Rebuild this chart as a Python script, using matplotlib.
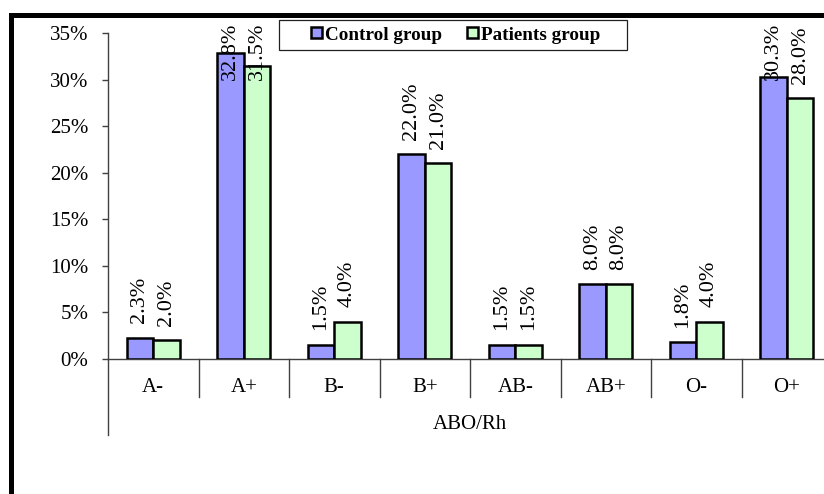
"""ABO/Rh distribution, control vs patients."""

import matplotlib
matplotlib.use("Agg")
import matplotlib.pyplot as plt
import numpy as np
from matplotlib.patches import Rectangle
from matplotlib.ticker import FuncFormatter
from matplotlib.transforms import blended_transform_factory

categories = ["A-", "A+", "B-", "B+", "AB-", "AB+", "O-", "O+"]
control = [2.3, 32.8, 1.5, 22.0, 1.5, 8.0, 1.8, 30.3]
patients = [2.0, 31.5, 4.0, 21.0, 1.5, 8.0, 4.0, 28.0]

plt.rcParams["font.family"] = "Liberation Serif"
plt.rcParams["font.size"] = 15

W, H = 824, 494
fig = plt.figure(figsize=(W / 100, H / 100), dpi=100)
ax = fig.add_axes([108 / W, 1 - 359 / H, 724 / W, 326 / H])

x = np.arange(len(categories))
w = 0.293
b1 = ax.bar(x - w / 2, control, w, color="#9999ff", edgecolor="black",
            linewidth=1.8, label="Control group", zorder=3)
b2 = ax.bar(x + w / 2, patients, w, color="#ccffcc", edgecolor="black",
            linewidth=1.8, label="Patients group", zorder=3)

ax.set_xlim(-0.5, len(categories) - 0.5)
ax.set_ylim(0, 35)
ax.set_yticks(np.arange(0, 36, 5))
ax.yaxis.set_major_formatter(FuncFormatter(lambda v, _: f"{v:.0f}%"))
ax.set_xticks(x)
ax.set_xticklabels(categories)
ax.tick_params(axis="x", length=0, pad=13.5)
ax.tick_params(axis="y", length=4.5, width=1, direction="out", pad=9.5,
               color="#404040")
for s in ("top", "right"):
    ax.spines[s].set_visible(False)
for s in ("left", "bottom"):
    ax.spines[s].set_color("#404040")
    ax.spines[s].set_linewidth(1)

# multi-level category axis: separators and extended left line
ax.plot([0, 0], [0, -0.233], transform=ax.transAxes, clip_on=False,
        color="#404040", lw=1)
trans = blended_transform_factory(ax.transData, ax.transAxes)
for bx in np.arange(0.5, len(categories), 1.0):
    ax.plot([bx, bx], [0, -0.117], transform=trans, clip_on=False,
            color="#404040", lw=1)

ax.set_xlabel("ABO/Rh", va="center")
ax.xaxis.set_label_coords(0.5, -0.2)

# value labels
labels = []
for rects, vals in ((b1, control), (b2, patients)):
    for r, v in zip(rects, vals):
        t = ax.annotate(f"{v:.1f}%", (r.get_x() + r.get_width() / 2, v),
                        xytext=(0, 10.5), textcoords="offset points",
                        rotation=90, ha="center", va="bottom", fontsize=16,
                        annotation_clip=False, zorder=4)
        labels.append(t)

cap = 36.1
fig.canvas.draw()
renderer = fig.canvas.get_renderer()
cap_px = ax.transData.transform((0, cap))[1]
for t in labels:
    if t.get_window_extent(renderer).y1 > cap_px:
        t.xy = (t.xy[0], cap)
        t.xyann = (0, 0)
        t.set_va("top")

# legend: entries without frame, box drawn separately (wider side padding)
fig.legend(handles=[b1, b2], loc="center",
           bbox_to_anchor=(456 / W, 1 - 35 / H), ncol=2,
           frameon=False, prop={"weight": "bold", "size": 13.8},
           handlelength=0.55, handleheight=0.55, handletextpad=0.18,
           columnspacing=1.3, borderpad=0, borderaxespad=0)
fig.add_artist(Rectangle((279 / W, 1 - 50 / H), 348 / W, 30 / H,
                         transform=fig.transFigure, fill=False,
                         edgecolor="#202020", linewidth=0.9))

# outer chart frame (cropped at right and bottom)
fig.add_artist(Rectangle((10.5 / W, -0.5), 2, 1 - 14.5 / H + 0.5,
                         transform=fig.transFigure, fill=False,
                         edgecolor="black", linewidth=3.6))

fig.savefig("out.png", dpi=100)
plt.close(fig)
